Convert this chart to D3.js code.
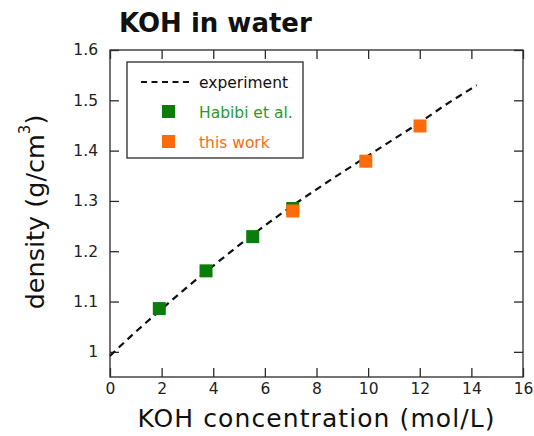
<!DOCTYPE html>
<html><head><meta charset="utf-8">
<script src="https://cdn.jsdelivr.net/npm/d3@7"></script>
<style>body{margin:0;background:#fff}svg{display:block}</style>
</head><body>
<script>
// Data
const habibiX = [1.91, 3.72, 5.53, 7.08];
const habibiY = [1.086, 1.161, 1.229, 1.285];
const thisWorkX = [7.08, 9.91, 12.01];
const thisWorkY = [1.280, 1.379, 1.449];
const expX = [0, 1, 2, 3, 4, 5, 6, 7, 8, 9, 10, 11, 12, 13, 14.21];
const expY = [0.992, 1.040, 1.085, 1.129, 1.171, 1.212, 1.251, 1.288, 1.323, 1.357, 1.390, 1.423, 1.456, 1.491, 1.530];
const xTicks = [0, 2, 4, 6, 8, 10, 12, 14, 16];
const yTicks = [1, 1.1, 1.2, 1.3, 1.4, 1.5, 1.6];
const legendLabels = ["experiment", "Habibi et al.", "this work"];

const W = 534, H = 436;
const svg = d3.select("body").append("svg").attr("width", W).attr("height", H);
const x = d3.scaleLinear().domain([0, 16]).range([110, 523]);
const y = d3.scaleLinear().domain([0.95, 1.6]).range([377, 50]);
const font = "'DejaVu Sans', sans-serif";

// frame
svg.append("rect").attr("x", x(0)).attr("y", y(1.6)).attr("width", x(16) - x(0)).attr("height", y(0.95) - y(1.6))
  .attr("fill", "none").attr("stroke", "#2a2a2a").attr("stroke-width", 1.3);

const fmtY = d => d === 1 ? "1" : d3.format(".1f")(d);
const axB = svg.append("g").attr("transform", `translate(0,${y(0.95)})`)
  .call(d3.axisBottom(x).tickValues(xTicks).tickSize(-9).tickPadding(6).tickFormat(d3.format("d")));
const axT = svg.append("g").attr("transform", `translate(0,${y(1.6)})`)
  .call(d3.axisTop(x).tickValues(xTicks).tickSize(-9).tickFormat(""));
const axL = svg.append("g").attr("transform", `translate(${x(0)},0)`)
  .call(d3.axisLeft(y).tickValues(yTicks).tickSize(-9).tickPadding(12).tickFormat(fmtY));
const axR = svg.append("g").attr("transform", `translate(${x(16)},0)`)
  .call(d3.axisRight(y).tickValues(yTicks).tickSize(-9).tickFormat(""));
[axB, axT, axL, axR].forEach(a => {
  a.attr("font-family", font).attr("font-size", 15.5);
  a.select(".domain").remove();
  a.selectAll(".tick line").attr("stroke", "#2a2a2a").attr("stroke-width", 1.3);
  a.selectAll(".tick text").attr("fill", "#222");
});

// experiment line
const expData = expX.map((v, i) => [v, expY[i]]);
svg.append("path").datum(expData)
  .attr("d", d3.line().x(d => x(d[0])).y(d => y(d[1])).curve(d3.curveMonotoneX))
  .attr("fill", "none").attr("stroke", "#111").attr("stroke-width", 2.2).attr("stroke-dasharray", "7,5");

const ms = 13;
const green = "#0a7d0a", orange = "#ff6a0a";
svg.append("g").selectAll("rect").data(habibiX.map((v, i) => [v, habibiY[i]])).join("rect")
  .attr("x", d => x(d[0]) - ms / 2).attr("y", d => y(d[1]) - ms / 2).attr("width", ms).attr("height", ms).attr("fill", green);
svg.append("g").selectAll("rect").data(thisWorkX.map((v, i) => [v, thisWorkY[i]])).join("rect")
  .attr("x", d => x(d[0]) - ms / 2).attr("y", d => y(d[1]) - ms / 2).attr("width", ms).attr("height", ms).attr("fill", orange);

// legend
const lg = svg.append("g");
lg.append("rect").attr("x", 127).attr("y", 62).attr("width", 176).attr("height", 96)
  .attr("fill", "#fff").attr("stroke", "#2a2a2a").attr("stroke-width", 1.3);
lg.append("line").attr("x1", 141).attr("x2", 193).attr("y1", 82).attr("y2", 82)
  .attr("stroke", "#111").attr("stroke-width", 2).attr("stroke-dasharray", "6,4.5");
lg.append("rect").attr("x", 162).attr("y", 105).attr("width", ms).attr("height", ms).attr("fill", green);
lg.append("rect").attr("x", 162).attr("y", 135).attr("width", ms).attr("height", ms).attr("fill", orange);
const lcol = ["#111", "#2a9a2a", "#ff6a10"];
legendLabels.forEach((t, i) => {
  lg.append("text").attr("x", 199).attr("y", 87.5 + i * 30.3).text(t)
    .attr("font-family", font).attr("font-size", 15.5).attr("fill", lcol[i]);
});

// titles
svg.append("text").attr("x", 119).attr("y", 32).text("KOH in water")
  .attr("font-family", font).attr("font-weight", "bold").attr("font-size", 26).attr("fill", "#111");
svg.append("text").attr("x", 316).attr("y", 427).attr("text-anchor", "middle").text("KOH concentration (mol/L)")
  .attr("font-family", font).attr("font-size", 25).attr("textLength", 357).attr("lengthAdjust", "spacing").attr("fill", "#111");
const yl = svg.append("text").attr("transform", "translate(44,212) rotate(-90)").attr("text-anchor", "middle")
  .attr("font-family", font).attr("font-size", 25.5).attr("fill", "#111");
yl.append("tspan").text("density (g/cm");
yl.append("tspan").text("3").attr("font-size", 15).attr("dy", -14);
yl.append("tspan").text(")").attr("dy", 14);
</script>
</body></html>
